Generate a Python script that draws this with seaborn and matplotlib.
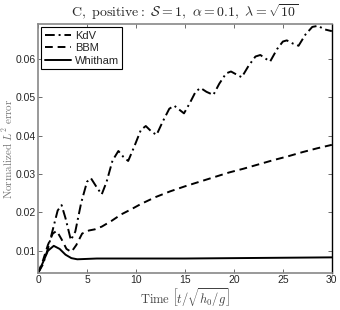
import numpy as np
import pandas as pd
import matplotlib
matplotlib.use("Agg")
import matplotlib.pyplot as plt
import seaborn as sns

# values
kdv_t = [0, 0.5, 1.0, 1.5, 2.0, 2.4, 2.8, 3.35, 3.8, 4.4, 5.0, 5.4, 6.0, 6.5, 7.0, 7.6,
         8.2, 8.7, 9.2, 9.8, 10.5, 11.0, 11.6, 12.1, 12.7, 13.4, 13.9, 14.4, 14.9, 15.5,
         16.1, 16.6, 17.2, 17.9, 18.5, 19.2, 19.7, 20.2, 20.8, 21.5, 22.2, 22.7, 23.2,
         23.7, 24.4, 25.0, 25.4, 26.0, 26.6, 27.3, 28.0, 28.6, 29.2, 30.0]
kdv_err = [0.0042, 0.0065, 0.0105, 0.0155, 0.0205, 0.0219, 0.0185, 0.0128, 0.0150, 0.0225,
           0.0280, 0.0289, 0.0265, 0.0247, 0.0280, 0.0335, 0.0360, 0.0345, 0.0334, 0.0370,
           0.0415, 0.0425, 0.0410, 0.0402, 0.0435, 0.0470, 0.0478, 0.0468, 0.0458, 0.0485,
           0.0515, 0.0524, 0.0514, 0.0506, 0.0535, 0.0562, 0.0567, 0.0560, 0.0552, 0.0582,
           0.0606, 0.0610, 0.0601, 0.0593, 0.0625, 0.0645, 0.0648, 0.0640, 0.0634, 0.0663,
           0.0683, 0.0686, 0.0677, 0.0672]

bbm_t = [0, 0.5, 1.0, 1.5, 1.9, 2.4, 2.9, 3.4, 3.9, 4.5, 5.2, 5.8, 6.5, 7.5, 8.5, 9.5,
         10.5, 12, 13.5, 15, 16.5, 18, 19.5, 21, 22.5, 24, 25.5, 27, 28.5, 30]
bbm_err = [0.0042, 0.0075, 0.0115, 0.0145, 0.0152, 0.0130, 0.0105, 0.0097, 0.0115, 0.0145,
           0.0153, 0.0156, 0.0163, 0.0178, 0.0195, 0.0208, 0.0222, 0.0240, 0.0255, 0.0268,
           0.0280, 0.0292, 0.0304, 0.0314, 0.0325, 0.0336, 0.0346, 0.0357, 0.0367, 0.0376]

whitham_t = [0, 0.5, 1.0, 1.6, 2.2, 2.8, 3.4, 4.0, 5, 6, 8, 10, 15, 20, 25, 30]
whitham_err = [0.0042, 0.0070, 0.0100, 0.0113, 0.0105, 0.0090, 0.0081, 0.0078, 0.0079,
               0.0080, 0.0080, 0.0080, 0.0080, 0.0081, 0.0082, 0.0083]

sns.set_style("ticks")
plt.rcParams['font.family'] = ['Liberation Sans', 'DejaVu Sans']
plt.rcParams['mathtext.fontset'] = 'cm'
plt.rcParams['xtick.direction'] = 'in'
plt.rcParams['ytick.direction'] = 'in'

fig = plt.figure(figsize=(3.4, 3.1), dpi=100)
ax = fig.add_axes([0.112, 0.119, 0.864, 0.804])

sns.lineplot(x=kdv_t, y=kdv_err, ax=ax, color='black', lw=1.4, label='KdV')
sns.lineplot(x=bbm_t, y=bbm_err, ax=ax, color='black', lw=1.4, label='BBM')
sns.lineplot(x=whitham_t, y=whitham_err, ax=ax, color='black', lw=1.4, label='Whitham')
ax.lines[0].set_dashes([5, 2, 1, 2])
ax.lines[1].set_dashes([4, 2.5])

ax.set_xlim(0, 30)
ax.set_ylim(0.0042, 0.0691)
ax.set_xticks([0, 5, 10, 15, 20, 25, 30])
ax.set_yticks([0.01, 0.02, 0.03, 0.04, 0.05, 0.06])
ax.set_yticklabels(['0.01', '0.02', '0.03', '0.04', '0.05', '0.06'])
ax.tick_params(labelsize=7.5, length=3, width=0.6, top=True, right=True, color='#555555',
               pad=1.5)

for s in ['left', 'bottom', 'top']:
    ax.spines[s].set_color('#888888')
    ax.spines[s].set_linewidth(1.2)
ax.spines['right'].set_color('black')
ax.spines['right'].set_linewidth(1.0)

ax.set_title(r'$\mathrm{C,\ positive{:}}\ \mathcal{S}=1,\ \alpha=0.1,\ \lambda=\sqrt{10}$',
             fontsize=10, pad=5)
ax.set_xlabel(r'$\mathrm{Time}\ \left[t/\sqrt{h_0/g}\right]$', fontsize=9, color='#444444')
ax.set_ylabel(r'$\mathrm{Normalized}\ L^2\ \mathrm{error}$', fontsize=8, color='#777777')
ax.yaxis.set_label_coords(-0.104, 0.5)
ax.xaxis.set_label_coords(0.5, -0.1)
ax.xaxis.label.set_verticalalignment('center')
ax.yaxis.label.set_verticalalignment('center')

leg = ax.legend(loc='upper left', fontsize=8, frameon=True, fancybox=False,
                handlelength=2.4, borderpad=0.3, labelspacing=0.25,
                borderaxespad=0.3, handletextpad=0.3)
leg.get_frame().set_edgecolor('black')
leg.get_frame().set_linewidth(0.8)
leg.get_frame().set_alpha(1)

fig.savefig('out.png', dpi=100)
